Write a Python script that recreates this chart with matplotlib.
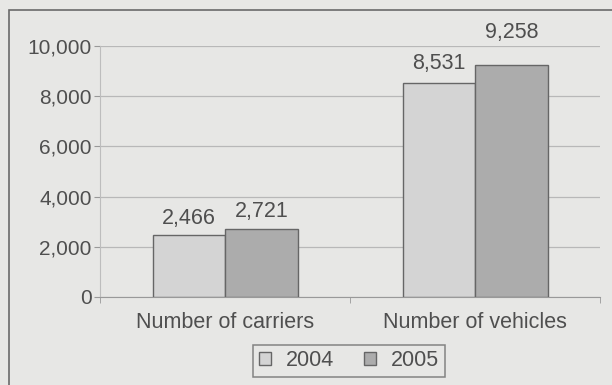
import numpy as np
import matplotlib.pyplot as plt
from matplotlib.patches import Rectangle

plt.rcParams['font.family'] = ['Liberation Sans', 'DejaVu Sans']

categories = ['Number of carriers', 'Number of vehicles']
years = ['2004', '2005']
values_2004 = [2466, 8531]
values_2005 = [2721, 9258]
yticks = [0, 2000, 4000, 6000, 8000, 10000]

bg = '#e7e7e5'
txt = '#4f4f4f'

W, H = 612, 385
fig = plt.figure(figsize=(W / 100, H / 100), dpi=100, facecolor=bg)
# outer frame of the figure box
fig.patches.append(Rectangle((9 / W, -0.05), 1.0, 1 - 10 / H + 0.05,
                             transform=fig.transFigure, fill=False,
                             edgecolor='#6a6a6a', linewidth=1.2))

ax = fig.add_axes([100 / W, 1 - 297 / H, 500 / W, 251 / H])
ax.set_facecolor(bg)

x = np.arange(len(categories))
w = 0.29
b1 = ax.bar(x - w / 2, values_2004, w, color='#d4d4d4', edgecolor='#666666', linewidth=1, label=years[0], zorder=3)
b2 = ax.bar(x + w / 2, values_2005, w, color='#acacac', edgecolor='#666666', linewidth=1, label=years[1], zorder=3)

# label offsets above bar tops, in pixels (label centre)
label_dy = [[17, 19], [17, 32]]
for j, (bars, vals) in enumerate([(b1, values_2004), (b2, values_2005)]):
    for i, (r, v) in enumerate(zip(bars, vals)):
        ax.annotate(f'{v:,}', (r.get_x() + r.get_width() / 2, v),
                    xytext=(0, label_dy[j][i] * 0.72), textcoords='offset points',
                    ha='center', va='center', fontsize=15.5, color=txt,
                    annotation_clip=False)

ax.set_xlim(-0.5, 1.5)
ax.set_ylim(0, 10000)
ax.set_yticks(yticks)
ax.set_yticklabels([f'{t:,}' for t in yticks])
ax.set_xticks(x)
ax.set_xticklabels(categories)
ax.set_xticks([-0.5, 0.5, 1.5], minor=True)
ax.tick_params(axis='x', which='major', length=0, pad=11, labelsize=15.5, labelcolor=txt)
ax.tick_params(axis='x', which='minor', length=4, color='#999999')
ax.tick_params(axis='y', length=4, color='#999999', labelsize=15, labelcolor=txt, pad=2)
ax.yaxis.grid(True, color='#b8b8b8', linewidth=0.9, zorder=0)

for s in ['top', 'right']:
    ax.spines[s].set_visible(False)
ax.spines['left'].set_color('#bdbdbd')
ax.spines['bottom'].set_color('#999999')

leg = fig.legend(loc='center', bbox_to_anchor=(349 / W, 1 - 361 / H), ncol=2,
                 fontsize=15.5, frameon=True, fancybox=False, edgecolor='#6a6a6a',
                 facecolor=bg, handlelength=0.55, handleheight=0.55, handletextpad=0.7,
                 columnspacing=1.4, borderpad=0.25)
leg.get_frame().set_linewidth(1.1)
for t in leg.get_texts():
    t.set_color(txt)

fig.savefig('out.png', dpi=100, facecolor=bg)
